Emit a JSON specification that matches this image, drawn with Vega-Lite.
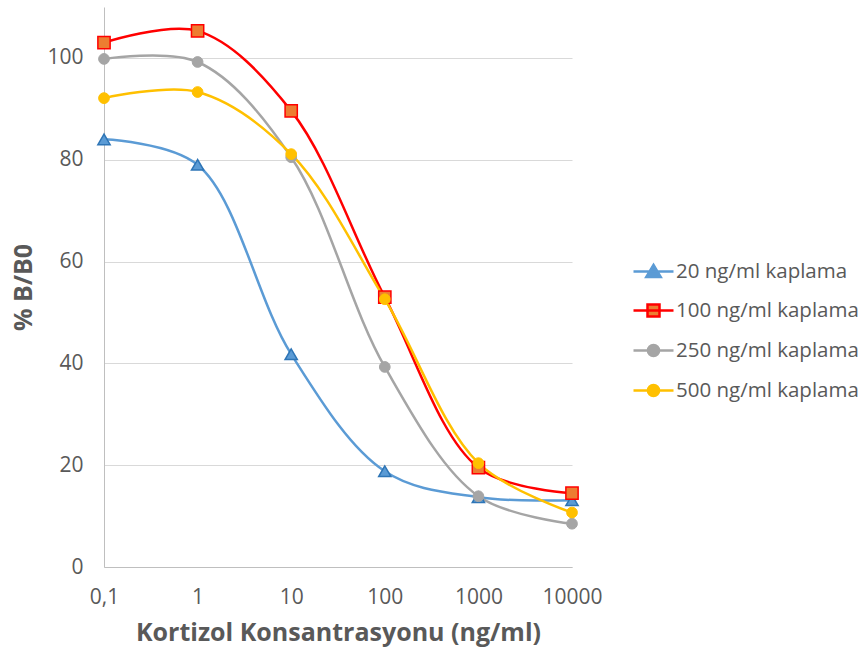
{
  "$schema": "https://vega.github.io/schema/vega-lite/v6.json",
  "width": 468,
  "height": 560,
  "autosize": "none",
  "padding": {"left": 104, "top": 7, "right": 295, "bottom": 86},
  "background": "white",
  "config": {
    "view": {"stroke": null},
    "font": "Open Sans"
  },
  "data": {
    "values": [
      {"x": 0.1, "y": 84, "series": "20 ng/ml kaplama"},
      {"x": 1, "y": 79, "series": "20 ng/ml kaplama"},
      {"x": 10, "y": 41.8, "series": "20 ng/ml kaplama"},
      {"x": 100, "y": 18.8, "series": "20 ng/ml kaplama"},
      {"x": 1000, "y": 13.7, "series": "20 ng/ml kaplama"},
      {"x": 10000, "y": 13.1, "series": "20 ng/ml kaplama"},
      {"x": 0.1, "y": 103, "series": "100 ng/ml kaplama"},
      {"x": 1, "y": 105.3, "series": "100 ng/ml kaplama"},
      {"x": 10, "y": 89.6, "series": "100 ng/ml kaplama"},
      {"x": 100, "y": 53, "series": "100 ng/ml kaplama"},
      {"x": 1000, "y": 19.5, "series": "100 ng/ml kaplama"},
      {"x": 10000, "y": 14.5, "series": "100 ng/ml kaplama"},
      {"x": 0.1, "y": 99.8, "series": "250 ng/ml kaplama"},
      {"x": 1, "y": 99.2, "series": "250 ng/ml kaplama"},
      {"x": 10, "y": 80.5, "series": "250 ng/ml kaplama"},
      {"x": 100, "y": 39.3, "series": "250 ng/ml kaplama"},
      {"x": 1000, "y": 13.9, "series": "250 ng/ml kaplama"},
      {"x": 10000, "y": 8.5, "series": "250 ng/ml kaplama"},
      {"x": 0.1, "y": 92.1, "series": "500 ng/ml kaplama"},
      {"x": 1, "y": 93.3, "series": "500 ng/ml kaplama"},
      {"x": 10, "y": 81.1, "series": "500 ng/ml kaplama"},
      {"x": 100, "y": 52.6, "series": "500 ng/ml kaplama"},
      {"x": 1000, "y": 20.4, "series": "500 ng/ml kaplama"},
      {"x": 10000, "y": 10.7, "series": "500 ng/ml kaplama"}
    ]
  },
  "encoding": {
    "x": {
      "field": "x", "type": "quantitative",
      "scale": {"type": "log", "domain": [0.1, 10000], "nice": false},
      "axis": {
        "title": "Kortizol Konsantrasyonu (ng/ml)",
        "values": [0.1, 1, 10, 100, 1000, 10000],
        "labelExpr": "datum.value < 1 ? '0,1' : format(datum.value, 'd')",
        "labelFlush": false,
        "labelOverlap": false,
        "grid": false, "ticks": false,
        "domainColor": "#BFBFBF", "domainWidth": 1,
        "labelFont": "Open Sans", "labelFontSize": 21, "labelColor": "#595959",
        "labelPadding": 19,
        "titleFont": "Open Sans", "titleFontSize": 25, "titleFontWeight": "bold", "titleColor": "#595959",
        "titlePadding": 13
      }
    },
    "y": {
      "field": "y", "type": "quantitative",
      "scale": {"domain": [0, 110], "nice": false},
      "axis": {
        "title": "% B/B0",
        "values": [0, 20, 40, 60, 80, 100],
        "grid": true, "gridColor": "#D9D9D9", "gridWidth": 1,
        "ticks": false,
        "domainColor": "#BFBFBF", "domainWidth": 1,
        "labelFont": "Open Sans", "labelFontSize": 21, "labelColor": "#595959",
        "labelPadding": 21,
        "titleFont": "Open Sans", "titleFontSize": 25, "titleFontWeight": "bold", "titleColor": "#595959",
        "titlePadding": 10
      }
    }
  },
  "layer": [
    {
      "mark": {"type": "line", "interpolate": "catmull-rom", "strokeWidth": 2.5},
      "encoding": {
        "color": {
          "field": "series", "type": "nominal",
          "scale": {
            "domain": ["20 ng/ml kaplama", "100 ng/ml kaplama", "250 ng/ml kaplama", "500 ng/ml kaplama"],
            "range": ["#5B9BD5", "#FF0000", "#A5A5A5", "#FFC000"]
          },
          "legend": {
            "title": null,
            "orient": "none",
            "legendX": 528,
            "legendY": 243,
            "symbolSize": 1600,
            "rowPadding": 7,
            "labelOffset": 1,
            "labelLimit": 400,
            "labelFont": "Open Sans",
            "labelFontSize": 20.5,
            "labelColor": "#595959",
            "encode": {
              "symbols": {
                "update": {
                  "shape": {"signal": "datum.index == 0 ? 'M-1,0L1,0M0,-0.33L0.36,0.27L-0.36,0.27Z' : datum.index == 1 ? 'M-1,0L1,0M-0.3,-0.3L0.3,-0.3L0.3,0.3L-0.3,0.3Z' : 'M-1,0L1,0M0.28,0A0.28,0.28,0,1,1,-0.28,0A0.28,0.28,0,1,1,0.28,0Z'"},
                  "fill": {"signal": "datum.index == 0 ? '#5B9BD5' : datum.index == 1 ? '#ED7D31' : datum.index == 2 ? '#A5A5A5' : '#FFC000'"},
                  "stroke": {"signal": "datum.index == 0 ? '#5B9BD5' : datum.index == 1 ? '#FF0000' : datum.index == 2 ? '#A5A5A5' : '#FFC000'"},
                  "strokeWidth": {"value": 2.5},
                  "opacity": {"value": 1}
                }
              }
            }
          }
        }
      }
    },
    {
      "transform": [{"filter": "datum.series == '20 ng/ml kaplama'"}],
      "mark": {"type": "point", "shape": "triangle-up", "size": 150, "filled": true, "fill": "#5B9BD5", "stroke": "#2E75B6", "strokeWidth": 1.5, "opacity": 1}
    },
    {
      "transform": [{"filter": "datum.series == '100 ng/ml kaplama'"}],
      "mark": {"type": "point", "shape": "square", "size": 150, "filled": true, "fill": "#ED7D31", "stroke": "#FF0000", "strokeWidth": 1.5, "opacity": 1}
    },
    {
      "transform": [{"filter": "datum.series == '250 ng/ml kaplama'"}],
      "mark": {"type": "point", "shape": "circle", "size": 115, "filled": true, "fill": "#A5A5A5", "stroke": "#A5A5A5", "strokeWidth": 1, "opacity": 1}
    },
    {
      "transform": [{"filter": "datum.series == '500 ng/ml kaplama'"}],
      "mark": {"type": "point", "shape": "circle", "size": 115, "filled": true, "fill": "#FFC000", "stroke": "#FFC000", "strokeWidth": 1, "opacity": 1}
    }
  ]
}
